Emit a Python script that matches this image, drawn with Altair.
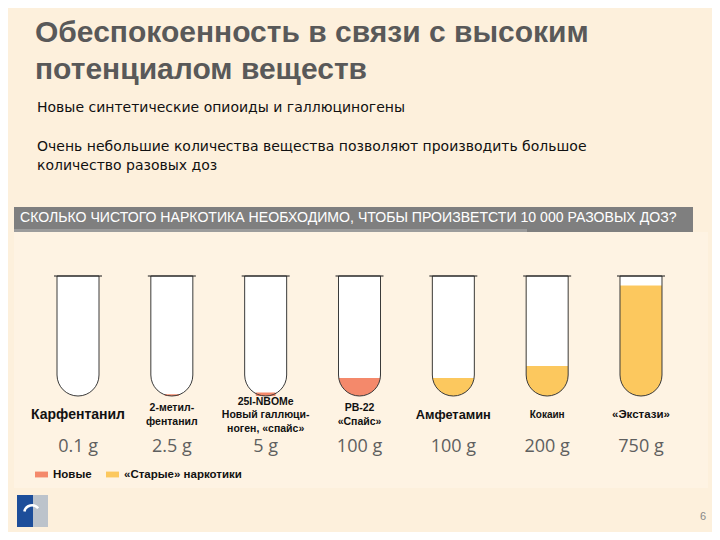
import altair as alt
import pandas as pd

# ---------------- data ----------------
names = [
    "Карфентанил",
    "2-метил-\nфентанил",
    "25I-NBOMe\nНовый галлюци-\nноген, «спайс»",
    "PB-22\n«Спайс»",
    "Амфетамин",
    "Кокаин",
    "«Экстази»",
]
grams = ["0.1 g", "2.5 g", "5 g", "100 g", "100 g", "200 g", "750 g"]
fill_level = [0.0, 0.015, 0.03, 0.15, 0.15, 0.25, 0.92]  # share of tube filled
kind = ["Новые", "Новые", "Новые", "Новые",
        "«Старые» наркотики", "«Старые» наркотики", "«Старые» наркотики"]
legend_labels = ["Новые", "«Старые» наркотики"]

title_text = "Обеспокоенность в связи с высоким\nпотенциалом веществ"
bullet1 = "Новые синтетические опиоиды и галлюциногены"
bullet2 = "Очень небольшие количества вещества позволяют производить большое\nколичество разовых доз"
banner_text = "СКОЛЬКО ЧИСТОГО НАРКОТИКА НЕОБХОДИМО, ЧТОБЫ ПРОИЗВЕТСТИ 10 000 РАЗОВЫХ ДОЗ?"
page_no = "6"

# ---------------- styles ----------------
BG = "#FDF0DC"
ORANGE = "#F4896B"
YELLOW = "#FCC85E"
SANS = "Liberation Sans, Arial, sans-serif"
WIDE = "DejaVu Sans, Verdana, sans-serif"
R = 21          # tube bottom radius (px)
W = 42          # tube width (px)
TUBE_PX = 120   # tube length (px)
LH = 13.5       # label line height

df = pd.DataFrame({"name": names, "grams": grams, "level": fill_level, "kind": kind})
df["top"] = 1.0
df["bottom"] = 0.0

# one row per label line (lines come from the names themselves)
line_rows = []
for nm in names:
    parts = nm.split("\n")
    n = len(parts)
    for i, p in enumerate(parts):
        line_rows.append({"name": nm, "line": p, "off": (i - (n - 1) / 2) * LH})
lines_df = pd.DataFrame(line_rows)

X = alt.X("name:N", sort=names,
          scale=alt.Scale(domain=names, range=[23.1, 679.9], paddingInner=0, paddingOuter=0),
          axis=None)
YS = alt.Scale(domain=[0, 1], range=[388, 268], nice=False, zero=False)
Ytop = alt.Y("top:Q", scale=YS, axis=None)

base = alt.Chart(df)

body = base.mark_bar(size=W, color="white", cornerRadiusBottomLeft=R,
                     cornerRadiusBottomRight=R).encode(x=X, y=Ytop, y2="bottom:Q")

color_enc = alt.Color(
    "kind:N",
    scale=alt.Scale(domain=legend_labels, range=[ORANGE, YELLOW]),
    legend=alt.Legend(orient="none", legendX=27, legendY=460,
                      direction="horizontal", title=None,
                      symbolType="M-1,-0.45H1V0.45H-1Z",
                      symbolSize=169, symbolStrokeWidth=0, symbolOpacity=1,
                      labelFont=SANS, labelFontWeight="bold",
                      labelFontSize=11.5, labelColor="#111",
                      labelOffset=5, columnPadding=14, padding=0))

# larger fills: full coloured tube, then white cover from the level up
fill_big = base.transform_filter("datum.level >= 0.1").mark_bar(
    size=W, cornerRadiusBottomLeft=R, cornerRadiusBottomRight=R, opacity=1).encode(
    x=X, y=Ytop, y2="bottom:Q", color=color_enc)

cover_flat = base.transform_filter("datum.level >= 0.1").mark_bar(
    size=W, color="white").encode(x=X, y=Ytop, y2="level:Q")

# tiny fills: a thin sliver along the bottom, chord width from the level
fill_small = base.transform_filter("datum.level > 0 && datum.level < 0.1").transform_calculate(
    chord=f"2*sqrt({R}*{R} - pow({R} - datum.level*{TUBE_PX}, 2))*0.85"
).mark_bar(cornerRadius=1, opacity=1).encode(
    x=X, y=alt.Y("level:Q", scale=YS, axis=None), y2="bottom:Q",
    size=alt.Size("chord:Q", scale=None, legend=None), color=color_enc)

outline = base.mark_bar(size=W, fillOpacity=0, stroke="#3a3a3a", strokeWidth=1,
                        cornerRadiusBottomLeft=R, cornerRadiusBottomRight=R).encode(
    x=X, y=Ytop, y2="bottom:Q")

lip = base.mark_tick(size=48, thickness=1.6, color="#222").encode(x=X, y=Ytop)

label_size = {
    "condition": [
        {"test": "datum.name === 'Карфентанил'", "value": 14},
        {"test": "datum.name === 'Амфетамин'", "value": 12.8},
        {"test": "datum.name === '«Экстази»'", "value": 11.5},
        {"test": "datum.name === 'Кокаин'", "value": 10},
    ],
    "value": 10.5,
}
labels = alt.Chart(lines_df).mark_text(font=SANS, fontWeight="bold", baseline="middle",
                                       align="center", color="#111").encode(
    x=X,
    y=alt.Y("off:Q", scale=alt.Scale(domain=[-LH, LH], range=[407 - LH, 407 + LH],
                                     nice=False, zero=False), axis=None),
    text="line:N", size=label_size)

gram_text = base.mark_text(font="Open Sans", fontSize=18, color="#5f5f5f",
                           baseline="middle", align="center").encode(
    x=X, y=alt.value(439), text="grams:N")


def one(text):
    return alt.Chart(pd.DataFrame({"t": [text]}))


def rect(x, x2, y, y2, color):
    return one("").mark_rect(color=color).encode(
        x=alt.value(x), x2=alt.value(x2), y=alt.value(y), y2=alt.value(y2))


def txt(text, x, y, **kw):
    return one(text).mark_text(align="left", baseline="middle", lineBreak="\n", **kw).encode(
        x=alt.value(x), y=alt.value(y), text="t:N")


panel = rect(6, 700, 224, 480, "#FEF3E3")
banner = rect(6, 685, 199, 224, "#7F7F7F")
banner_stripe = rect(6, 519, 221, 224, "#9C9C9C")

title = txt(title_text, 27, 25, font=SANS, fontWeight="bold", fontSize=30,
            color="#595959", lineHeight=37)
b1 = txt(bullet1, 29, 100, font=WIDE, fontSize=14, color="#111")
b2 = txt(bullet2, 29, 139, font=WIDE, fontSize=14, color="#111", lineHeight=19)
ban = txt(banner_text, 12, 210, font=SANS, fontSize=14.1, color="white")
pg = txt(page_no, 692, 509, font=SANS, fontSize=11, color="#888")

logo_blue = rect(9, 25, 487, 519, "#1D4E9A")
logo_gray = rect(25, 40, 487, 519, "#BCC3CB")
logo_arc = one("").mark_arc(radius=9, radius2=6.5, theta=4.9, theta2=7.2, color="white").encode(
    x=alt.value(24), y=alt.value(505))

chart = alt.layer(
    panel, banner, banner_stripe,
    body, fill_big, cover_flat, fill_small, outline, lip,
    labels, gram_text,
    title, b1, b2, ban, pg,
    logo_blue, logo_gray, logo_arc,
).resolve_scale(y="independent").properties(
    width=704, height=524,
    autosize=alt.AutoSizeParams(type="none"),
    padding=0,
    background=BG,
).configure_view(stroke=None)

chart.save("out.html", embed_options={"renderer": "svg", "actions": False})
